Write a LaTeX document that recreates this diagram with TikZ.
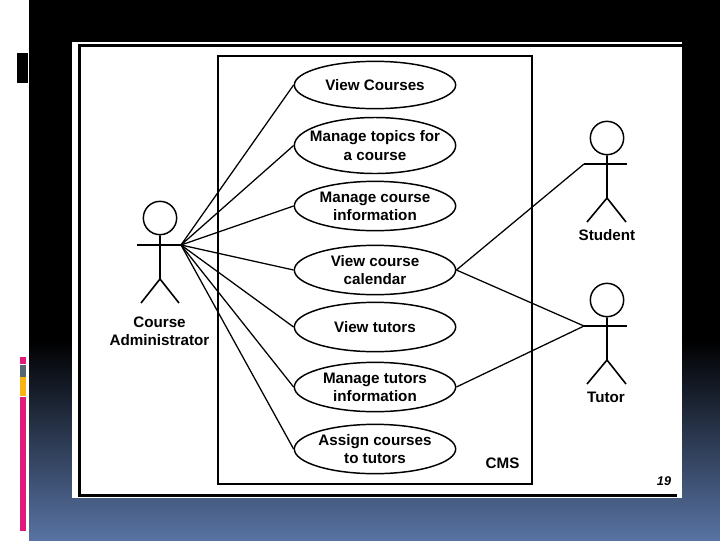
\documentclass[tikz,border=0pt]{standalone}
\usepackage{fontspec}
\setmainfont{Liberation Sans}
\usetikzlibrary{shapes.geometric}
\definecolor{slateblue}{HTML}{5873A3}
\definecolor{barpink}{HTML}{E0197D}
\definecolor{bargrey}{HTML}{566570}
\definecolor{barorange}{HTML}{F9B414}
\tikzset{
  usecase/.style={draw=black,line width=1.1pt,ellipse,inner sep=-12pt,minimum width=121pt,minimum height=37pt,align=center,font=\fontsize{11.4}{13.6}\selectfont\bfseries},
  tall/.style={minimum height=42pt},
  flat/.style={minimum height=35.5pt},
  label/.style={inner sep=0pt,align=center,font=\fontsize{11.4}{13.6}\selectfont\bfseries},
  link/.style={draw=black,line width=0.95pt},
  limb/.style={draw=black,line width=1.2pt},
}
\begin{document}
\begin{tikzpicture}[x=0.75pt,y=-0.75pt]
\useasboundingbox (0,0) rectangle (720,540);
% slide background
\fill[white] (0,0) rectangle (720,540);
\fill[black] (29,0) rectangle (720,341);
\shade[top color=black,bottom color=slateblue] (29,340) rectangle (720,540);
\fill[black] (17,53) rectangle (28,83);
\fill[barpink] (20,357) rectangle (26,364);
\fill[bargrey] (20,365) rectangle (26,377);
\fill[barorange] (20,377) rectangle (26,396);
\fill[barpink] (20,397) rectangle (26,531);
% panel
\fill[white] (72,42) rectangle (681.5,498);
\fill[black] (78,44) rectangle (681.5,46.5);
\fill[black] (78,44) rectangle (80.5,497);
\fill[black] (78,494) rectangle (677,497);
% system box
\draw[black,line width=1.5pt] (218,56) rectangle (532,484);
% use cases
\node[usecase,flat] (vc) at (375,85) {View Courses};
\node[usecase,tall] (mt) at (375,145.5) {Manage topics for\\a course};
\node[usecase] (mi) at (375,206) {Manage course\\information};
\node[usecase] (cal) at (375,270) {View course\\calendar};
\node[usecase] (vt) at (375,327) {View tutors};
\node[usecase] (mti) at (375,387) {Manage tutors\\information};
\node[usecase] (ac) at (375,449) {Assign courses\\to tutors};
% actors
\coordinate (adminL) at (137,245);
\coordinate (adminR) at (181,245);
\coordinate (studL) at (584,164);
\coordinate (studR) at (627,164);
\coordinate (tutL) at (584,326);
\coordinate (tutR) at (627,326);
\node[circle,draw=black,line width=1.1pt,minimum size=25pt,inner sep=0pt] (adminH) at (160,218) {};
\node[circle,draw=black,line width=1.1pt,minimum size=25pt,inner sep=0pt] (studH) at (607,138) {};
\node[circle,draw=black,line width=1.1pt,minimum size=25pt,inner sep=0pt] (tutH) at (607,300) {};
\coordinate (adminHip) at (160,279);
\coordinate (studHip) at (607,198);
\coordinate (tutHip) at (607,360);
\draw[limb] (adminH.south) -- (adminHip) -- (141,303);
\draw[limb] (adminHip) -- (179,303);
\draw[link] (adminL) -- (adminR);
\draw[limb] (studH.south) -- (studHip) -- (587,222);
\draw[limb] (studHip) -- (626,222);
\draw[link] (studL) -- (studR);
\draw[limb] (tutH.south) -- (tutHip) -- (587,384);
\draw[limb] (tutHip) -- (626,384);
\draw[link] (tutL) -- (tutR);
% connectors
\foreach \u in {vc,mt,mi,cal,vt,mti,ac} \draw[link] (adminR) -- (\u.west);
\draw[link] (studL) -- (cal.east);
\draw[link] (tutL) -- (cal.east);
\draw[link] (tutL) -- (mti.east);
% labels
\node[label] (adminT) at (159.5,331) {Course\\Administrator};
\node[label] (studT) at (607,235) {Student};
\node[label] (tutT) at (606,397) {Tutor};
\node[label] (cms) at (502.5,463) {CMS};
\node[inner sep=0pt,font=\fontsize{9.5}{11}\selectfont\bfseries\itshape] (num) at (664,481.5) {19};
\end{tikzpicture}
\end{document}
